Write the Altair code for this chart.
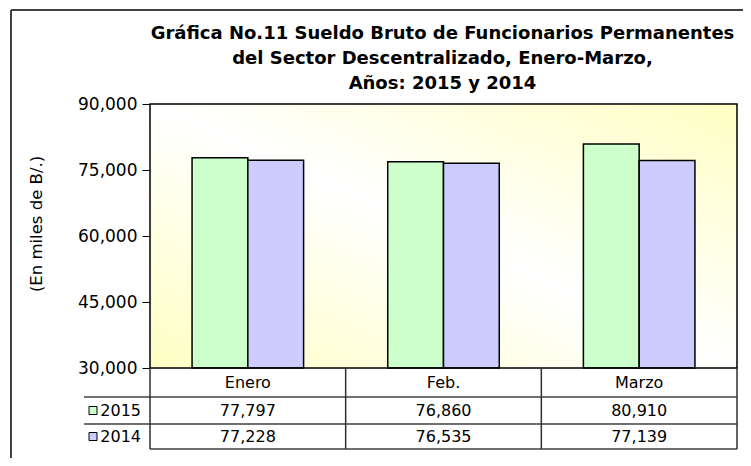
import altair as alt
import pandas as pd

months = ["Enero", "Feb.", "Marzo"]
years = ["2015", "2014"]
values_2015 = [77797, 76860, 80910]
values_2014 = [77228, 76535, 77139]
year_colors = ["#CCFFCC", "#CCCCFF"]
y_ticks = [30000, 45000, 60000, 75000, 90000]
title_lines = [
    "Gráfica No.11 Sueldo Bruto de Funcionarios Permanentes",
    "del Sector Descentralizado, Enero-Marzo,",
    "Años: 2015 y 2014",
]
y_title = "(En miles de B/.)"

rows = []
for yr, vals in zip(years, [values_2015, values_2014]):
    for m, v in zip(months, vals):
        rows.append({"month": m, "year": yr, "value": v})
df = pd.DataFrame(rows)

W, H = 587, 264
FONT = "DejaVu Sans"
STEP = W / 3
ROW1, ROW2, ROW3 = 278.5, 306.5, 332.5
LINE_A, LINE_B, LINE_C = 293, 320, 345

x_scale = alt.Scale(domain=months, paddingInner=0.43, paddingOuter=0.215)
y_scale = alt.Scale(domain=[30000, 90000], zero=False, nice=False)
color_scale = alt.Scale(domain=years, range=year_colors)
one = pd.DataFrame({"k": [0]})

bg = alt.Chart(one).mark_rect(
    fill=alt.Gradient(
        gradient="linear", x1=0, y1=1, x2=1, y2=0,
        stops=[
            alt.GradientStop(color="#FFFFC4", offset=0),
            alt.GradientStop(color="#FFFFFF", offset=0.5),
            alt.GradientStop(color="#FFFFC4", offset=1),
        ],
    )
).encode(x=alt.value(0), x2=alt.value(W), y=alt.value(0), y2=alt.value(H))

bars = alt.Chart(df).mark_bar(stroke="black", strokeWidth=1.5).encode(
    x=alt.X("month:N", scale=x_scale, axis=None),
    xOffset=alt.XOffset("year:N", sort=years, scale=alt.Scale(domain=years)),
    y=alt.Y("value:Q", scale=y_scale,
            axis=alt.Axis(values=y_ticks, format=",d", title=None, grid=False,
                          domain=False, tickColor="black", tickSize=8,
                          labelFont=FONT, labelFontSize=17, labelColor="black",
                          labelPadding=5)),
    y2=alt.datum(30000),
    fill=alt.Fill("year:N", scale=color_scale, legend=None),
)

frame = alt.Chart(one).mark_rect(fillOpacity=0, stroke="black", strokeWidth=1.5).encode(
    x=alt.value(0), x2=alt.value(W), y=alt.value(0), y2=alt.value(H))

layers = [bg, bars, frame]

# table lines
hl = [(-66, W, LINE_A), (-66, W, LINE_B), (0, W, LINE_C)]
for x1, x2, yy in hl:
    layers.append(alt.Chart(one).mark_rule(color="#404040", strokeWidth=1.5).encode(
        x=alt.value(x1), x2=alt.value(x2), y=alt.value(yy)))
for xx in [0, STEP, 2 * STEP, W]:
    layers.append(alt.Chart(one).mark_rule(color="#303030", strokeWidth=1.5).encode(
        x=alt.value(xx), y=alt.value(H), y2=alt.value(LINE_C)))

# outer frame
layers.append(alt.Chart(one).mark_rule(color="#404040", strokeWidth=2).encode(
    x=alt.value(-139), x2=alt.value(W + 30), y=alt.value(-94)))
layers.append(alt.Chart(one).mark_rule(color="#404040", strokeWidth=2).encode(
    x=alt.value(-139), y=alt.value(-94), y2=alt.value(H + 120)))

# table texts
layers.append(alt.Chart(pd.DataFrame({"month": months})).mark_text(
    font=FONT, fontSize=16, color="black", baseline="middle").encode(
    x=alt.X("month:N", scale=x_scale, axis=None), y=alt.value(ROW1), text="month:N"))
for yr, ry in zip(years, [ROW2, ROW3]):
    layers.append(alt.Chart(df).transform_filter(alt.datum.year == yr).mark_text(
        font=FONT, fontSize=16, color="black", baseline="middle").encode(
        x=alt.X("month:N", scale=x_scale, axis=None), y=alt.value(ry),
        text=alt.Text("value:Q", format=",d")))
    sub = pd.DataFrame({"year": [yr]})
    layers.append(alt.Chart(sub).mark_point(shape="square", size=64, filled=True,
                                            stroke="black", strokeWidth=1, opacity=1).encode(
        x=alt.value(-57), y=alt.value(ry),
        fill=alt.Fill("year:N", scale=color_scale, legend=None)))
    layers.append(alt.Chart(sub).mark_text(font=FONT, fontSize=16, color="black",
                                           align="right", baseline="middle").encode(
        x=alt.value(-9), y=alt.value(ry), text="year:N"))

# title lines
for i, t in enumerate(title_lines):
    layers.append(alt.Chart(pd.DataFrame({"t": [t]})).mark_text(
        font=FONT, fontSize=18, fontWeight="bold", color="black", baseline="middle").encode(
        x=alt.value(W / 2 - 1), y=alt.value(-70 + 25 * i), text="t:N"))

# y title
layers.append(alt.Chart(pd.DataFrame({"t": [y_title]})).mark_text(
    font=FONT, fontSize=16.5, color="black", angle=270, baseline="middle").encode(
    x=alt.value(-113), y=alt.value(120), text="t:N"))

chart = alt.layer(*layers).properties(
    width=W, height=H,
    padding={"left": 142, "top": 96, "right": 6, "bottom": 90},
    autosize=alt.AutoSizeParams(type="none"),
).configure_view(strokeWidth=0)

chart.save("out.html", embed_options={"renderer": "svg", "actions": False})
